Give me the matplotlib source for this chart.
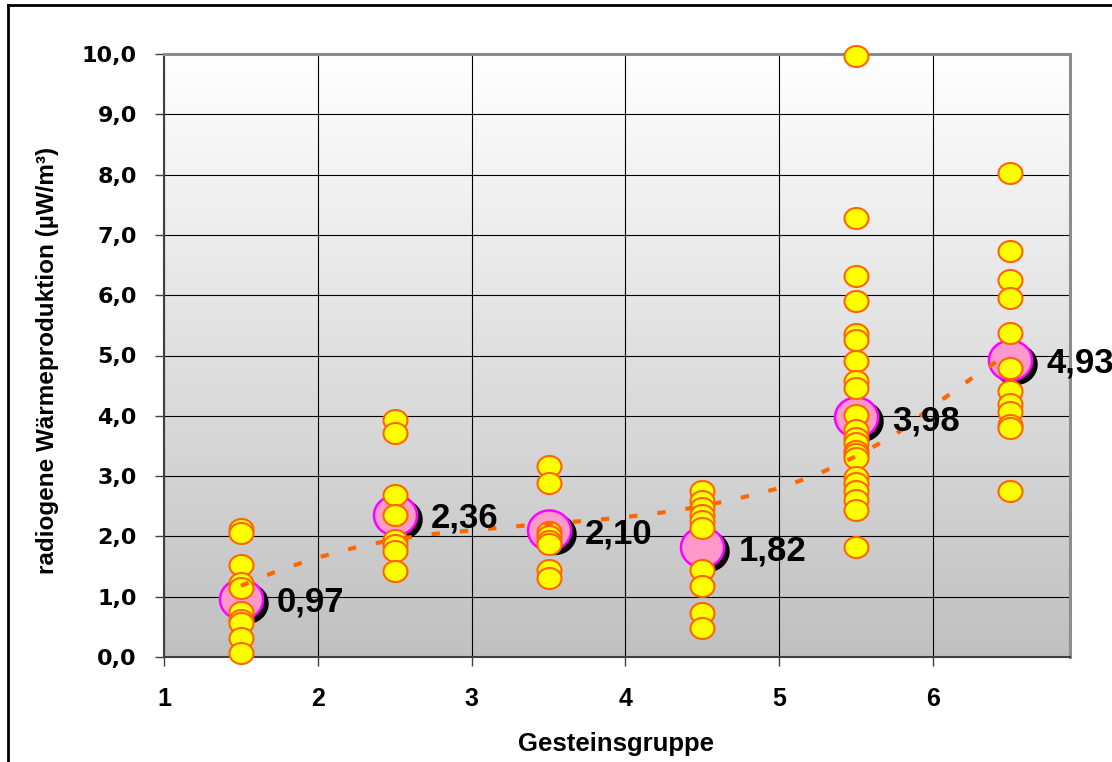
import matplotlib
matplotlib.use("Agg")
import matplotlib.pyplot as plt
import numpy as np
from matplotlib.path import Path
from matplotlib.lines import Line2D
from matplotlib.transforms import offset_copy
from matplotlib.colors import LinearSegmentedColormap

# rock groups (plotted at the middle of each class)
group_x = [1.5, 2.5, 3.5, 4.5, 5.5, 6.5]

# single measurements per group (µW/m³)
g1 = [2.13, 2.05, 1.53, 1.22, 1.14, 0.75, 0.61, 0.56, 0.31, 0.06]
g2 = [3.93, 3.72, 2.69, 2.36, 1.94, 1.85, 1.75, 1.42]
g3 = [3.16, 2.88, 2.08, 2.00, 1.93, 1.88, 1.45, 1.31]
g4 = [2.75, 2.58, 2.47, 2.36, 2.25, 2.14, 1.45, 1.17, 0.73, 0.48]
g5 = [9.97, 7.28, 6.32, 5.90, 5.35, 5.25, 4.91, 4.57, 4.46, 4.02, 3.77,
      3.63, 3.55, 3.41, 3.36, 3.30, 2.99, 2.88, 2.75, 2.61, 2.44, 1.83]
g6 = [8.03, 6.73, 6.26, 5.96, 5.38, 4.80, 4.41, 4.19, 4.07, 3.85, 3.80, 2.75]
groups = [g1, g2, g3, g4, g5, g6]

# group means and their labels
means = [0.97, 2.36, 2.10, 1.82, 3.98, 4.93]
mean_labels = ["0,97", "2,36", "2,10", "1,82", "3,98", "4,93"]

# trend line
trend_x = [1.5, 1.75, 2.0, 2.25, 2.5, 2.75, 3.0, 3.25, 3.5, 3.75, 4.0,
           4.25, 4.5, 4.75, 5.0, 5.25, 5.5, 5.75, 6.0, 6.25, 6.5]
trend_y = [1.18, 1.44, 1.65, 1.82, 1.95, 2.04, 2.10, 2.16, 2.21, 2.26, 2.32,
           2.40, 2.50, 2.64, 2.80, 3.03, 3.33, 3.68, 4.16, 4.62, 5.05]

xticks = [1, 2, 3, 4, 5, 6]
xtick_labels = ["1", "2", "3", "4", "5", "6"]
yticks = [0, 1, 2, 3, 4, 5, 6, 7, 8, 9, 10]
ytick_labels = ["0,0", "1,0", "2,0", "3,0", "4,0", "5,0",
                "6,0", "7,0", "8,0", "9,0", "10,0"]

x_max = 6.89

fig = plt.figure(figsize=(11.12, 7.62), dpi=100)
ax = fig.add_axes([164 / 1112, 1 - 657 / 762, 906 / 1112, 603 / 762])

# grey gradient of the plot area
grad = LinearSegmentedColormap.from_list("bg", ["#c0c0c0", "#ffffff"])
ax.imshow(np.linspace(0, 1, 256).reshape(-1, 1), cmap=grad, origin="lower",
          extent=[1, x_max, 0, 10], aspect="auto", zorder=0)

# slightly wide ellipse markers like in the Excel chart
t = np.linspace(0, 2 * np.pi, 64)
small_ell = Path(np.column_stack([np.cos(t), 0.875 * np.sin(t)]))
big_ell = Path(np.column_stack([np.cos(t), 0.93 * np.sin(t)]))

# mean markers with a black drop shadow
shadow = offset_copy(ax.transData, fig=fig, x=5, y=-4, units="dots")
ax.plot(group_x, means, ls="none", marker=big_ell, ms=31, mfc="black",
        mec="black", transform=shadow, zorder=2, clip_on=False)
ax.plot(group_x, means, ls="none", marker=big_ell, ms=31, mfc="#ff99cc",
        mec="#ff00ff", mew=1.8, zorder=3, clip_on=False)

for gx, vals in zip(group_x, groups):
    ax.plot([gx] * len(vals), vals, ls="none", marker=small_ell, ms=17.3,
            mfc="#ffff00", mec="#ff6600", mew=1.5, zorder=4, clip_on=False)

ax.plot(trend_x, trend_y, color="#ff6600", lw=3, dashes=(2.0, 4.8), zorder=5)

for gx, m, lbl in zip(group_x, means, mean_labels):
    ax.annotate(lbl, (gx, m), xytext=(26, 0), textcoords="offset points",
                ha="left", va="center_baseline", fontsize=25, fontweight="bold",
                family="Liberation Sans", zorder=6, annotation_clip=False)

ax.set_xlim(1, x_max)
ax.set_ylim(0, 10)
ax.set_axisbelow(True)
ax.grid(True, color="black", lw=0.8)

ax.set_xticks(xticks)
ax.set_xticklabels(xtick_labels, fontfamily="Liberation Sans",
                   fontweight="bold", fontsize=18)
ax.set_yticks(yticks)
ax.set_yticklabels(ytick_labels, fontfamily="DejaVu Sans",
                   fontweight="bold", fontsize=16)
ax.tick_params(axis="x", direction="out", length=6.5, width=1,
               color="#404040", pad=15)
ax.tick_params(axis="y", direction="out", length=6.5, width=1,
               color="#404040", pad=13)

for s in ["left", "bottom"]:
    ax.spines[s].set_color("#404040")
    ax.spines[s].set_linewidth(1.5)
for s in ["top", "right"]:
    ax.spines[s].set_color("#8c8c8c")
    ax.spines[s].set_linewidth(2.2)

fig.text(616 / 1112, 1 - 744 / 762, "Gesteinsgruppe", ha="center", va="center",
         fontsize=18.5, fontweight="bold", family="Liberation Sans")
fig.text(48 / 1112, 1 - 360 / 762, "radiogene Wärmeproduktion (µW/m³)",
         rotation=90, ha="center", va="center", fontsize=17.5,
         fontweight="bold", family="Liberation Sans")

# outer chart border (only top and left edge visible)
fig.add_artist(Line2D([8 / 1112, 8 / 1112], [0, 1 - 5 / 762],
                      transform=fig.transFigure, color="black", lw=2))
fig.add_artist(Line2D([8 / 1112, 1], [1 - 5 / 762, 1 - 5 / 762],
                      transform=fig.transFigure, color="black", lw=2))

fig.savefig("out.png", dpi=100)
